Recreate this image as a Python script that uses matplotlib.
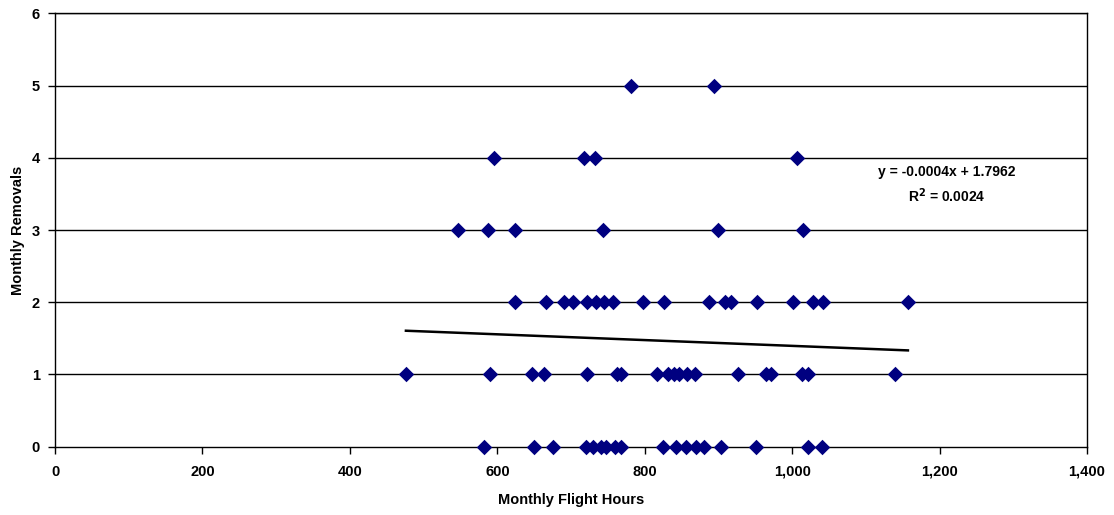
import numpy as np
import matplotlib
matplotlib.use("Agg")
import matplotlib.pyplot as plt

plt.rcParams['font.family'] = ['Liberation Sans', 'DejaVu Sans']

# flight hours, grouped by monthly removal count
hours_0 = [582, 650, 676, 720, 730, 740, 748, 760, 768, 825, 843, 856, 870, 880, 903, 951, 1022, 1040]
hours_1 = [476, 590, 647, 664, 722, 762, 768, 816, 831, 839, 847, 857, 868, 927, 964, 971, 1013, 1022, 1139]
hours_2 = [624, 666, 690, 703, 721, 734, 745, 757, 798, 826, 887, 909, 917, 952, 1001, 1028, 1042, 1157]
hours_3 = [546, 587, 624, 744, 899, 1015]
hours_4 = [596, 718, 733, 1006]
hours_5 = [782, 894]

groups = [hours_0, hours_1, hours_2, hours_3, hours_4, hours_5]
hours = np.concatenate([np.array(g, dtype=float) for g in groups])
removals = np.concatenate([np.full(len(g), i) for i, g in enumerate(groups)])

# trend line as given on the chart
slope = -0.0004
intercept = 1.7962
r_squared = 0.0024

fig = plt.figure(figsize=(11.14, 5.15), dpi=100)
ax = fig.add_axes([0.0494, 0.1326, 0.9264, 0.8415])

for yv in range(1, 7):
    ax.axhline(yv, color='black', linewidth=1.0, zorder=1)

ax.scatter(hours, removals, marker='D', s=62, color='#000080', zorder=3,
           linewidths=0, clip_on=False)

xt = np.array([hours.min(), hours.max()])
ax.plot(xt, slope * xt + intercept, color='black', linewidth=1.8, zorder=2)

ax.text(1210, 3.62, 'y = -0.0004x + 1.7962\nR$^{\\mathbf{2}}$ = ' + f'{r_squared:.4f}',
        ha='center', va='center', fontsize=10, fontweight='bold', linespacing=1.5)

ax.set_xlim(0, 1400)
ax.set_ylim(0, 6)
ax.set_xticks(range(0, 1401, 200))
ax.set_xticklabels([f'{v:,}' for v in range(0, 1401, 200)])
ax.set_yticks(range(0, 7))
for lab in ax.get_xticklabels() + ax.get_yticklabels():
    lab.set_fontweight('bold')
ax.tick_params(axis='both', labelsize=10.5, length=5, width=1, color='black', direction='out')
ax.tick_params(axis='x', pad=8)
ax.tick_params(axis='y', pad=6)

for s in ax.spines.values():
    s.set_linewidth(1.0)
    s.set_color('black')

ax.set_xlabel('Monthly Flight Hours', fontsize=10.5, fontweight='bold', labelpad=10)
ax.set_ylabel('Monthly Removals', fontsize=10.5, fontweight='bold', labelpad=5)

fig.savefig('out.png', dpi=100)
